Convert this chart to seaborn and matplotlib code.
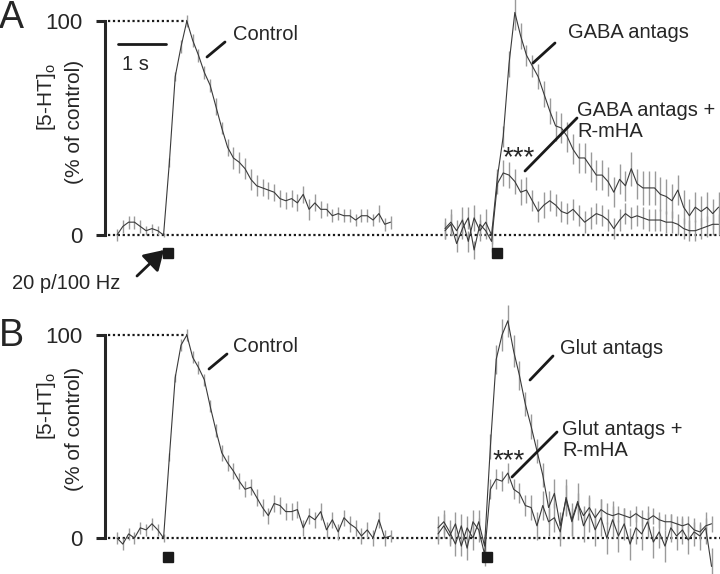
import numpy as np
import matplotlib
matplotlib.use("Agg")
import matplotlib.pyplot as plt
from matplotlib.lines import Line2D
from matplotlib.patches import FancyArrowPatch
import seaborn as sns

# sampling of the averaged traces (s)
DT = 0.12
PX_PER_S = 48.5

# Panel A: control and GABA antagonists (+/- R-mHA), % of control
a_ctrl = [0, 4, 6, 6, 4, 2, 3, 2,
          0, 34, 74, 88, 100, 91, 84, 76,
          70, 60, 50, 41, 36, 34, 31, 26,
          23, 22, 21, 20, 17, 16, 17, 15,
          19, 12, 15, 12, 12, 9, 10, 9,
          9, 7, 9, 9, 7, 10, 5, 6]
a_ctrl_err = [3, 3, 3, 3, 3, 2, 2, 2,
              1, 2, 2, 3, 3, 3, 3, 3,
              3, 4, 3, 4, 5, 5, 5, 5,
              5, 4, 4, 4, 4, 4, 4, 4,
              4, 5, 4, 4, 3, 3, 3, 3,
              3, 3, 3, 3, 3, 4, 3, 3]
a_gaba = [3, 6, 2, 7, -3, 8, 2, 6,
          0, 27, 46, 80, 104, 93, 84, 79,
          74, 66, 58, 51, 50, 46, 40, 36,
          36, 32, 28, 28, 25, 20, 26, 23,
          31, 24, 22, 22, 22, 19, 18, 16,
          21, 13, 9, 13, 11, 13, 10, 13]
a_gaba_err = [5, 6, 5, 6, 5, 6, 5, 6,
              4, 4, 5, 6, 8, 6, 5, 5,
              6, 6, 6, 7, 7, 7, 7, 7,
              7, 7, 7, 7, 7, 7, 7, 7,
              8, 7, 8, 8, 8, 8, 8, 8,
              7, 8, 8, 7, 7, 7, 7, 7]
a_rmha = [2, 5, -4, 3, 8, -7, 5, 2,
          -3, 24, 29, 28, 25, 20, 21, 16,
          11, 14, 16, 14, 11, 10, 12, 9,
          6, 8, 10, 9, 7, 3, 7, 10,
          8, 9, 8, 7, 7, 7, 6, 6,
          5, 3, 2, 2, 3, 4, 5, 5]
a_rmha_err = [4, 5, 4, 5, 5, 4, 5, 4,
              5, 5, 6, 6, 6, 6, 6, 5,
              5, 6, 5, 5, 5, 5, 5, 5,
              5, 5, 5, 5, 5, 5, 5, 5,
              5, 5, 5, 5, 5, 5, 5, 5,
              5, 5, 5, 5, 5, 5, 5, 5]

# Panel B: control and glutamate antagonists (+/- R-mHA)
b_ctrl = [0, -3, 2, 0, 5, 4, 7, 4,
          0, 40, 79, 95, 100, 89, 84, 78,
          65, 53, 42, 37, 33, 28, 24, 25,
          20, 15, 11, 17, 16, 13, 13, 14,
          5, 11, 9, 13, 4, 9, 3, 10,
          7, 5, 1, 4, 0, 9, 0, 1]
b_ctrl_err = [3, 3, 3, 3, 3, 3, 3, 3,
              2, 2, 2, 3, 3, 3, 3, 3,
              3, 3, 4, 4, 4, 4, 4, 4,
              4, 4, 4, 4, 4, 4, 4, 4,
              4, 4, 4, 4, 4, 4, 4, 4,
              4, 4, 4, 4, 4, 4, 4, 3]
b_glut = [2, 6, 1, 7, -4, 5, 0, 8,
          -4, 45, 88, 100, 107, 92, 80, 66,
          55, 43, 31, 15, 22, 6, 19, 8,
          17, 11, 15, 10, 14, 12, 11, 12,
          11, 10, 12, 10, 9, 11, 9, 8,
          8, 7, 6, 7, 4, 3, 6, 7]
b_glut_err = [5, 6, 5, 6, 5, 6, 6, 6,
              6, 6, 7, 8, 8, 8, 7, 6,
              6, 6, 6, 8, 7, 7, 7, 7,
              5, 5, 5, 5, 5, 5, 5, 4,
              4, 4, 4, 4, 4, 4, 4, 4,
              4, 4, 4, 4, 4, 4, 4, 4]
b_rmha = [5, 8, 3, -3, 6, -5, 8, 4,
          -8, 24, 29, 28, 32, 24, 22, 16,
          15, 6, 16, 8, 10, 3, 20, 9,
          18, 6, 12, 4, 10, 0, 9, 1,
          7, -3, 5, 2, 8, -2, 3, -4,
          5, 1, 4, -1, 3, 1, 5, -14]
b_rmha_err = [6, 6, 6, 6, 6, 6, 6, 6,
              6, 5, 5, 5, 5, 5, 5, 5,
              6, 7, 7, 7, 7, 7, 9, 8,
              9, 8, 9, 8, 9, 8, 9, 8,
              8, 8, 8, 8, 8, 8, 8, 8,
              7, 7, 7, 7, 7, 7, 8, 9]

W, H = 720, 574


def fx(px):
    return px / W


def fy(py):
    return 1 - py / H


def trace(ax, t0, vals, errs):
    t = t0 + np.arange(len(vals)) * DT
    v = np.asarray(vals, float)
    e = np.asarray(errs, float)
    ax.vlines(t, v - e, v + e, color="#9a9a9a", lw=1.0, zorder=1)
    sns.lineplot(x=t, y=v, ax=ax, color="#3a3a3a", lw=0.8, sort=False,
                 estimator=None, zorder=2)
    return t, v


def panel(ax, ylim, ctrl, ctrl_err, drug, drug_err, rmha, rmha_err,
          t_left, t_right, stim_right, stim_y):
    t, v = trace(ax, t_left, ctrl, ctrl_err)
    trace(ax, t_right, rmha, rmha_err)
    trace(ax, t_right, drug, drug_err)
    xmin = (105 - 168) / PX_PER_S
    xmax = (720 - 168) / PX_PER_S
    x0 = (108 - 168) / PX_PER_S
    ax.plot([x0, xmax], [0, 0], color="k", lw=1.6, ls=(0, (1, 1.2)), zorder=0)
    ax.plot([x0, t[np.argmax(v)]], [100, 100], color="k", lw=1.6,
            ls=(0, (1, 1.2)), zorder=0)
    ax.plot([0, stim_right], [stim_y, stim_y], ls="none", marker="s",
            ms=6.5, color="k", clip_on=False)
    ax.set_xlim(xmin, xmax)
    ax.set_ylim(*ylim)
    for s in ["top", "right", "bottom"]:
        ax.spines[s].set_visible(False)
    ax.spines["left"].set_bounds(0, 100)
    ax.spines["left"].set_linewidth(2.2)
    ax.set_xticks([])
    ax.set_yticks([0, 100])
    ax.tick_params(axis="y", length=6.5, width=2.2, pad=10, labelsize=16,
                   left=True)
    ax.set_xlabel("")
    ax.set_ylabel("")
    ax.grid(False)


sns.set_theme(style="white")
plt.rcParams["font.family"] = ["Liberation Sans", "DejaVu Sans"]
plt.rcParams["mathtext.fontset"] = "custom"
plt.rcParams["mathtext.rm"] = "Liberation Sans"

fig = plt.figure(figsize=(7.2, 5.74), dpi=100)
ax_a = fig.add_axes([fx(105), fy(262), fx(615), 262 / H])
ax_b = fig.add_axes([fx(105), 0, fx(615), 274 / H])

panel(ax_a, (-(262 - 235) / 2.14, 235 / 2.14), a_ctrl, a_ctrl_err,
      a_gaba, a_gaba_err, a_rmha, a_rmha_err,
      (117 - 168) / PX_PER_S, (445 - 168) / PX_PER_S,
      (497 - 168) / PX_PER_S, -(253 - 235) / 2.14)
panel(ax_b, (-(574 - 538) / 2.03, (538 - 300) / 2.03), b_ctrl, b_ctrl_err,
      b_glut, b_glut_err, b_rmha, b_rmha_err,
      (117 - 168) / PX_PER_S, (438 - 168) / PX_PER_S,
      (487 - 168) / PX_PER_S, -(557 - 538) / 2.03)

FS = 14.5


def txt(px, py, s, **kw):
    kw.setdefault("fontsize", FS)
    kw.setdefault("ha", "left")
    kw.setdefault("va", "center")
    fig.text(fx(px), fy(py), s, **kw)


def seg(p1, p2, lw=2.0):
    fig.add_artist(Line2D([fx(p1[0]), fx(p2[0])], [fy(p1[1]), fy(p2[1])],
                          transform=fig.transFigure, color="k", lw=lw))


# panel letters
txt(-1, 18, "A", fontsize=27)
txt(-1, 336, "B", fontsize=27)

# y labels
for top1, top2 in [(63, 60), (372, 367)]:
    txt(47, top1, r"[5-HT]$_{\mathregular{o}}$", rotation=90, ha="center",
        va="top", fontsize=15)
    txt(75, top2, "(% of control)", rotation=90, ha="center", va="top",
        fontsize=15)

# scale bar
seg((118, 44), (166, 44), lw=2.0)
txt(122, 65, "1 s")

# stimulus arrow
fig.add_artist(FancyArrowPatch(
    (fx(137), fy(276)), (fx(164), fy(250)), transform=fig.transFigure,
    arrowstyle="-|>,head_length=0.65,head_width=0.4", lw=2, color="k",
    mutation_scale=18, shrinkA=0, shrinkB=0))
txt(12, 283, "20 p/100 Hz")

# panel A labels
txt(233, 35, "Control")
seg((207, 57), (225, 42))
txt(568, 33, "GABA antags")
seg((533, 63), (555, 43))
txt(577, 121, "GABA antags +\nR-mHA", linespacing=1.15)
seg((525, 171), (577, 118))
txt(519, 158, "***", ha="center", fontsize=20)

# panel B labels
txt(233, 347, "Control")
seg((209, 369), (227, 354))
txt(560, 348, "Glut antags")
seg((530, 380), (553, 356))
txt(562, 440, "Glut antags +\nR-mHA", linespacing=1.15)
seg((512, 477), (557, 432))
txt(509, 461, "***", ha="center", fontsize=20)

fig.savefig("out.png", dpi=100)
